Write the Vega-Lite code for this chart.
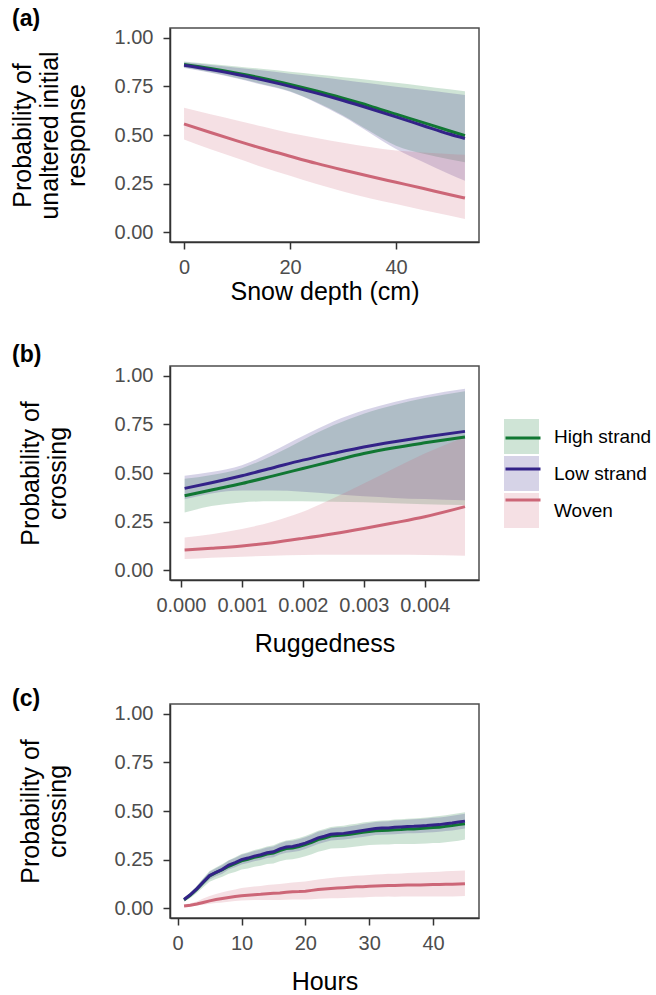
{
"$schema":"https://vega.github.io/schema/vega-lite/v6.json",
"padding":{"left":9,"top":6,"right":3,"bottom":5},
"background":"white",
"bounds":"flush",
"spacing":124,
"config":{
 "font":"Liberation Sans",
 "view":{"stroke":"#4d4d4d","strokeWidth":1.5},
 "axis":{"grid":false,"domainColor":"#333333","domainWidth":1.5,"tickColor":"#333333","tickWidth":1.5,"tickSize":7,"labelFontSize":20,"labelColor":"#4d4d4d","titleFontSize":25,"titleFontWeight":"normal","titleColor":"#000000","labelFont":"Liberation Sans","titleFont":"Liberation Sans"},
 "axisX":{"labelPadding":8},
 "axisY":{"labelPadding":10,"titleLineHeight":27},
 "legend":{"labelFont":"Liberation Sans"}
},
"datasets":{
"a":[
{"d":0,"type":"High strand","y":0.863,"lo":0.847,"hi":0.878},
{"d":5,"type":"High strand","y":0.842,"lo":0.822,"hi":0.865},
{"d":10,"type":"High strand","y":0.818,"lo":0.793,"hi":0.852},
{"d":15,"type":"High strand","y":0.791,"lo":0.760,"hi":0.839},
{"d":20,"type":"High strand","y":0.760,"lo":0.725,"hi":0.825},
{"d":25,"type":"High strand","y":0.726,"lo":0.668,"hi":0.811},
{"d":30,"type":"High strand","y":0.689,"lo":0.600,"hi":0.797},
{"d":35,"type":"High strand","y":0.650,"lo":0.520,"hi":0.783},
{"d":40,"type":"High strand","y":0.607,"lo":0.445,"hi":0.768},
{"d":45,"type":"High strand","y":0.565,"lo":0.405,"hi":0.752},
{"d":50,"type":"High strand","y":0.522,"lo":0.375,"hi":0.735},
{"d":53,"type":"High strand","y":0.497,"lo":0.360,"hi":0.725},
{"d":0,"type":"Low strand","y":0.858,"lo":0.845,"hi":0.874},
{"d":5,"type":"Low strand","y":0.836,"lo":0.820,"hi":0.860},
{"d":10,"type":"Low strand","y":0.811,"lo":0.790,"hi":0.846},
{"d":15,"type":"Low strand","y":0.782,"lo":0.757,"hi":0.831},
{"d":20,"type":"Low strand","y":0.750,"lo":0.722,"hi":0.815},
{"d":25,"type":"Low strand","y":0.715,"lo":0.665,"hi":0.799},
{"d":30,"type":"Low strand","y":0.677,"lo":0.595,"hi":0.783},
{"d":35,"type":"Low strand","y":0.636,"lo":0.512,"hi":0.766},
{"d":40,"type":"Low strand","y":0.593,"lo":0.428,"hi":0.748},
{"d":45,"type":"Low strand","y":0.549,"lo":0.362,"hi":0.732},
{"d":50,"type":"Low strand","y":0.505,"lo":0.300,"hi":0.716},
{"d":53,"type":"Low strand","y":0.482,"lo":0.265,"hi":0.706},
{"d":0,"type":"Woven","y":0.557,"lo":0.477,"hi":0.640},
{"d":5,"type":"Woven","y":0.513,"lo":0.427,"hi":0.607},
{"d":10,"type":"Woven","y":0.470,"lo":0.380,"hi":0.575},
{"d":15,"type":"Woven","y":0.429,"lo":0.333,"hi":0.542},
{"d":20,"type":"Woven","y":0.391,"lo":0.290,"hi":0.510},
{"d":25,"type":"Woven","y":0.354,"lo":0.248,"hi":0.484},
{"d":30,"type":"Woven","y":0.320,"lo":0.210,"hi":0.460},
{"d":35,"type":"Woven","y":0.288,"lo":0.175,"hi":0.438},
{"d":40,"type":"Woven","y":0.257,"lo":0.145,"hi":0.420},
{"d":45,"type":"Woven","y":0.226,"lo":0.115,"hi":0.410},
{"d":50,"type":"Woven","y":0.194,"lo":0.086,"hi":0.402},
{"d":53,"type":"Woven","y":0.176,"lo":0.068,"hi":0.398}
],
"b":[
{"r":0.00006,"type":"High strand","y":0.383,"lo":0.297,"hi":0.470},
{"r":0.0005,"type":"High strand","y":0.413,"lo":0.330,"hi":0.490},
{"r":0.001,"type":"High strand","y":0.446,"lo":0.349,"hi":0.525},
{"r":0.0015,"type":"High strand","y":0.484,"lo":0.355,"hi":0.590},
{"r":0.002,"type":"High strand","y":0.523,"lo":0.355,"hi":0.670},
{"r":0.0025,"type":"High strand","y":0.562,"lo":0.352,"hi":0.745},
{"r":0.003,"type":"High strand","y":0.600,"lo":0.350,"hi":0.805},
{"r":0.0035,"type":"High strand","y":0.630,"lo":0.345,"hi":0.850},
{"r":0.004,"type":"High strand","y":0.655,"lo":0.340,"hi":0.885},
{"r":0.00466,"type":"High strand","y":0.685,"lo":0.335,"hi":0.920},
{"r":0.00006,"type":"Low strand","y":0.421,"lo":0.365,"hi":0.486},
{"r":0.0005,"type":"Low strand","y":0.450,"lo":0.395,"hi":0.505},
{"r":0.001,"type":"Low strand","y":0.486,"lo":0.410,"hi":0.540},
{"r":0.0015,"type":"Low strand","y":0.526,"lo":0.410,"hi":0.610},
{"r":0.002,"type":"Low strand","y":0.566,"lo":0.404,"hi":0.690},
{"r":0.0025,"type":"Low strand","y":0.601,"lo":0.392,"hi":0.765},
{"r":0.003,"type":"Low strand","y":0.634,"lo":0.380,"hi":0.822},
{"r":0.0035,"type":"Low strand","y":0.661,"lo":0.372,"hi":0.865},
{"r":0.004,"type":"Low strand","y":0.685,"lo":0.366,"hi":0.899},
{"r":0.00466,"type":"Low strand","y":0.714,"lo":0.360,"hi":0.933},
{"r":0.00006,"type":"Woven","y":0.104,"lo":0.058,"hi":0.169},
{"r":0.0005,"type":"Woven","y":0.113,"lo":0.065,"hi":0.185},
{"r":0.001,"type":"Woven","y":0.125,"lo":0.070,"hi":0.212},
{"r":0.0015,"type":"Woven","y":0.142,"lo":0.075,"hi":0.250},
{"r":0.002,"type":"Woven","y":0.164,"lo":0.079,"hi":0.301},
{"r":0.0025,"type":"Woven","y":0.188,"lo":0.080,"hi":0.370},
{"r":0.003,"type":"Woven","y":0.215,"lo":0.080,"hi":0.446},
{"r":0.0035,"type":"Woven","y":0.244,"lo":0.080,"hi":0.525},
{"r":0.004,"type":"Woven","y":0.275,"lo":0.079,"hi":0.600},
{"r":0.00466,"type":"Woven","y":0.327,"lo":0.075,"hi":0.685}
],
"c":[
{"h":1,"type":"High strand","y":0.043,"lo":0.033,"hi":0.053},
{"h":2,"type":"High strand","y":0.068,"lo":0.053,"hi":0.081},
{"h":3,"type":"High strand","y":0.098,"lo":0.078,"hi":0.115},
{"h":4,"type":"High strand","y":0.133,"lo":0.108,"hi":0.154},
{"h":5,"type":"High strand","y":0.166,"lo":0.136,"hi":0.191},
{"h":6,"type":"High strand","y":0.183,"lo":0.150,"hi":0.210},
{"h":7,"type":"High strand","y":0.198,"lo":0.162,"hi":0.227},
{"h":8,"type":"High strand","y":0.216,"lo":0.177,"hi":0.247},
{"h":9,"type":"High strand","y":0.229,"lo":0.187,"hi":0.262},
{"h":10,"type":"High strand","y":0.244,"lo":0.199,"hi":0.279},
{"h":11,"type":"High strand","y":0.252,"lo":0.205,"hi":0.288},
{"h":12,"type":"High strand","y":0.262,"lo":0.214,"hi":0.299},
{"h":13,"type":"High strand","y":0.269,"lo":0.219,"hi":0.307},
{"h":14,"type":"High strand","y":0.279,"lo":0.227,"hi":0.318},
{"h":15,"type":"High strand","y":0.284,"lo":0.230,"hi":0.324},
{"h":16,"type":"High strand","y":0.297,"lo":0.242,"hi":0.338},
{"h":17,"type":"High strand","y":0.307,"lo":0.250,"hi":0.349},
{"h":18,"type":"High strand","y":0.310,"lo":0.252,"hi":0.353},
{"h":19,"type":"High strand","y":0.317,"lo":0.258,"hi":0.361},
{"h":20,"type":"High strand","y":0.327,"lo":0.267,"hi":0.372},
{"h":21,"type":"High strand","y":0.339,"lo":0.278,"hi":0.384},
{"h":22,"type":"High strand","y":0.353,"lo":0.291,"hi":0.399},
{"h":23,"type":"High strand","y":0.361,"lo":0.298,"hi":0.408},
{"h":24,"type":"High strand","y":0.371,"lo":0.307,"hi":0.418},
{"h":25,"type":"High strand","y":0.374,"lo":0.309,"hi":0.422},
{"h":26,"type":"High strand","y":0.376,"lo":0.310,"hi":0.424},
{"h":27,"type":"High strand","y":0.381,"lo":0.314,"hi":0.430},
{"h":28,"type":"High strand","y":0.386,"lo":0.318,"hi":0.435},
{"h":29,"type":"High strand","y":0.391,"lo":0.322,"hi":0.441},
{"h":30,"type":"High strand","y":0.395,"lo":0.325,"hi":0.445},
{"h":31,"type":"High strand","y":0.398,"lo":0.327,"hi":0.448},
{"h":32,"type":"High strand","y":0.400,"lo":0.328,"hi":0.451},
{"h":33,"type":"High strand","y":0.401,"lo":0.328,"hi":0.452},
{"h":34,"type":"High strand","y":0.404,"lo":0.330,"hi":0.456},
{"h":35,"type":"High strand","y":0.405,"lo":0.330,"hi":0.458},
{"h":36,"type":"High strand","y":0.407,"lo":0.331,"hi":0.460},
{"h":37,"type":"High strand","y":0.408,"lo":0.331,"hi":0.462},
{"h":38,"type":"High strand","y":0.410,"lo":0.332,"hi":0.464},
{"h":39,"type":"High strand","y":0.412,"lo":0.333,"hi":0.467},
{"h":40,"type":"High strand","y":0.415,"lo":0.335,"hi":0.471},
{"h":41,"type":"High strand","y":0.417,"lo":0.336,"hi":0.474},
{"h":42,"type":"High strand","y":0.421,"lo":0.339,"hi":0.478},
{"h":43,"type":"High strand","y":0.425,"lo":0.343,"hi":0.483},
{"h":44,"type":"High strand","y":0.430,"lo":0.347,"hi":0.489},
{"h":45,"type":"High strand","y":0.434,"lo":0.354,"hi":0.494},
{"h":1,"type":"Low strand","y":0.045,"lo":0.035,"hi":0.055},
{"h":2,"type":"Low strand","y":0.070,"lo":0.058,"hi":0.082},
{"h":3,"type":"Low strand","y":0.100,"lo":0.086,"hi":0.114},
{"h":4,"type":"Low strand","y":0.135,"lo":0.118,"hi":0.152},
{"h":5,"type":"Low strand","y":0.168,"lo":0.148,"hi":0.188},
{"h":6,"type":"Low strand","y":0.185,"lo":0.164,"hi":0.206},
{"h":7,"type":"Low strand","y":0.200,"lo":0.178,"hi":0.222},
{"h":8,"type":"Low strand","y":0.222,"lo":0.199,"hi":0.245},
{"h":9,"type":"Low strand","y":0.235,"lo":0.211,"hi":0.259},
{"h":10,"type":"Low strand","y":0.250,"lo":0.225,"hi":0.275},
{"h":11,"type":"Low strand","y":0.258,"lo":0.233,"hi":0.284},
{"h":12,"type":"Low strand","y":0.268,"lo":0.242,"hi":0.294},
{"h":13,"type":"Low strand","y":0.275,"lo":0.248,"hi":0.302},
{"h":14,"type":"Low strand","y":0.285,"lo":0.258,"hi":0.312},
{"h":15,"type":"Low strand","y":0.290,"lo":0.262,"hi":0.318},
{"h":16,"type":"Low strand","y":0.305,"lo":0.277,"hi":0.333},
{"h":17,"type":"Low strand","y":0.315,"lo":0.286,"hi":0.344},
{"h":18,"type":"Low strand","y":0.318,"lo":0.289,"hi":0.347},
{"h":19,"type":"Low strand","y":0.325,"lo":0.295,"hi":0.355},
{"h":20,"type":"Low strand","y":0.335,"lo":0.305,"hi":0.365},
{"h":21,"type":"Low strand","y":0.348,"lo":0.318,"hi":0.378},
{"h":22,"type":"Low strand","y":0.362,"lo":0.331,"hi":0.393},
{"h":23,"type":"Low strand","y":0.370,"lo":0.339,"hi":0.401},
{"h":24,"type":"Low strand","y":0.380,"lo":0.349,"hi":0.411},
{"h":25,"type":"Low strand","y":0.383,"lo":0.351,"hi":0.415},
{"h":26,"type":"Low strand","y":0.385,"lo":0.353,"hi":0.417},
{"h":27,"type":"Low strand","y":0.390,"lo":0.358,"hi":0.422},
{"h":28,"type":"Low strand","y":0.395,"lo":0.363,"hi":0.427},
{"h":29,"type":"Low strand","y":0.400,"lo":0.367,"hi":0.433},
{"h":30,"type":"Low strand","y":0.405,"lo":0.372,"hi":0.438},
{"h":31,"type":"Low strand","y":0.410,"lo":0.377,"hi":0.443},
{"h":32,"type":"Low strand","y":0.412,"lo":0.378,"hi":0.446},
{"h":33,"type":"Low strand","y":0.413,"lo":0.379,"hi":0.447},
{"h":34,"type":"Low strand","y":0.416,"lo":0.381,"hi":0.451},
{"h":35,"type":"Low strand","y":0.418,"lo":0.383,"hi":0.453},
{"h":36,"type":"Low strand","y":0.420,"lo":0.385,"hi":0.455},
{"h":37,"type":"Low strand","y":0.421,"lo":0.385,"hi":0.457},
{"h":38,"type":"Low strand","y":0.423,"lo":0.387,"hi":0.459},
{"h":39,"type":"Low strand","y":0.425,"lo":0.389,"hi":0.461},
{"h":40,"type":"Low strand","y":0.428,"lo":0.391,"hi":0.465},
{"h":41,"type":"Low strand","y":0.430,"lo":0.393,"hi":0.467},
{"h":42,"type":"Low strand","y":0.434,"lo":0.397,"hi":0.471},
{"h":43,"type":"Low strand","y":0.438,"lo":0.400,"hi":0.476},
{"h":44,"type":"Low strand","y":0.443,"lo":0.405,"hi":0.481},
{"h":45,"type":"Low strand","y":0.448,"lo":0.410,"hi":0.486},
{"h":1,"type":"Woven","y":0.012,"lo":0.008,"hi":0.020},
{"h":2,"type":"Woven","y":0.016,"lo":0.010,"hi":0.026},
{"h":3,"type":"Woven","y":0.022,"lo":0.014,"hi":0.035},
{"h":4,"type":"Woven","y":0.030,"lo":0.018,"hi":0.050},
{"h":5,"type":"Woven","y":0.038,"lo":0.023,"hi":0.063},
{"h":6,"type":"Woven","y":0.045,"lo":0.027,"hi":0.074},
{"h":7,"type":"Woven","y":0.050,"lo":0.030,"hi":0.082},
{"h":8,"type":"Woven","y":0.055,"lo":0.033,"hi":0.090},
{"h":9,"type":"Woven","y":0.060,"lo":0.037,"hi":0.097},
{"h":10,"type":"Woven","y":0.064,"lo":0.040,"hi":0.104},
{"h":11,"type":"Woven","y":0.067,"lo":0.041,"hi":0.108},
{"h":12,"type":"Woven","y":0.070,"lo":0.042,"hi":0.112},
{"h":13,"type":"Woven","y":0.072,"lo":0.042,"hi":0.115},
{"h":14,"type":"Woven","y":0.075,"lo":0.043,"hi":0.119},
{"h":15,"type":"Woven","y":0.077,"lo":0.043,"hi":0.122},
{"h":16,"type":"Woven","y":0.079,"lo":0.043,"hi":0.125},
{"h":17,"type":"Woven","y":0.082,"lo":0.044,"hi":0.129},
{"h":18,"type":"Woven","y":0.085,"lo":0.045,"hi":0.133},
{"h":19,"type":"Woven","y":0.086,"lo":0.045,"hi":0.135},
{"h":20,"type":"Woven","y":0.088,"lo":0.045,"hi":0.138},
{"h":21,"type":"Woven","y":0.092,"lo":0.047,"hi":0.143},
{"h":22,"type":"Woven","y":0.096,"lo":0.049,"hi":0.148},
{"h":23,"type":"Woven","y":0.099,"lo":0.050,"hi":0.152},
{"h":24,"type":"Woven","y":0.102,"lo":0.051,"hi":0.156},
{"h":25,"type":"Woven","y":0.104,"lo":0.052,"hi":0.159},
{"h":26,"type":"Woven","y":0.106,"lo":0.053,"hi":0.162},
{"h":27,"type":"Woven","y":0.108,"lo":0.054,"hi":0.165},
{"h":28,"type":"Woven","y":0.110,"lo":0.055,"hi":0.167},
{"h":29,"type":"Woven","y":0.111,"lo":0.056,"hi":0.169},
{"h":30,"type":"Woven","y":0.113,"lo":0.058,"hi":0.171},
{"h":31,"type":"Woven","y":0.115,"lo":0.059,"hi":0.174},
{"h":32,"type":"Woven","y":0.116,"lo":0.059,"hi":0.175},
{"h":33,"type":"Woven","y":0.117,"lo":0.060,"hi":0.177},
{"h":34,"type":"Woven","y":0.117,"lo":0.059,"hi":0.178},
{"h":35,"type":"Woven","y":0.118,"lo":0.060,"hi":0.179},
{"h":36,"type":"Woven","y":0.119,"lo":0.060,"hi":0.181},
{"h":37,"type":"Woven","y":0.120,"lo":0.061,"hi":0.183},
{"h":38,"type":"Woven","y":0.120,"lo":0.060,"hi":0.184},
{"h":39,"type":"Woven","y":0.121,"lo":0.061,"hi":0.185},
{"h":40,"type":"Woven","y":0.122,"lo":0.061,"hi":0.187},
{"h":41,"type":"Woven","y":0.122,"lo":0.060,"hi":0.188},
{"h":42,"type":"Woven","y":0.123,"lo":0.061,"hi":0.190},
{"h":43,"type":"Woven","y":0.124,"lo":0.061,"hi":0.191},
{"h":44,"type":"Woven","y":0.125,"lo":0.062,"hi":0.193},
{"h":45,"type":"Woven","y":0.126,"lo":0.063,"hi":0.194}
]
},
"vconcat":[
{
 "width":309,"height":214,
 "title":{"text":"(a)","anchor":"start","frame":"group","dx":-158,"offset":-21,"baseline":"alphabetic","fontSize":23,"fontWeight":"bold","color":"#000000"},
 "data":{"name":"a"},
 "layer":[
  {"mark":{"type":"area","fillOpacity":0.2,"interpolate":"monotone"},
   "encoding":{
    "x":{"field":"d","type":"quantitative","scale":{"domain":[-2.65,55.65],"nice":false,"zero":false},"axis":{"values":[0,20,40],"title":"Snow depth (cm)","titlePadding":2}},
    "y":{"field":"lo","type":"quantitative","scale":{"domain":[-0.05,1.05],"nice":false,"zero":false},"axis":{"values":[0,0.25,0.5,0.75,1],"format":".2f","title":["Probability of","unaltered initial","response"],"titlePadding":25}},
    "y2":{"field":"hi"},
    "fill":{"field":"type","type":"nominal","scale":{"range":["#117733","#332288","#CC6677"]},"legend":{"title":null,"orient":"none","legendX":334,"legendY":391,"symbolType":"square","symbolSize":1225,"symbolOpacity":0.2,"symbolStrokeWidth":0,"labelFontSize":19,"labelColor":"#000000","labelOffset":15,"rowPadding":2,"padding":0,"zindex":0}}
   }},
  {"mark":{"type":"line","strokeWidth":3,"interpolate":"monotone"},
   "encoding":{
    "x":{"field":"d","type":"quantitative","axis":{"values":[0,20,40],"title":"Snow depth (cm)","titlePadding":2}},
    "y":{"field":"y","type":"quantitative","axis":{"values":[0,0.25,0.5,0.75,1],"format":".2f","title":["Probability of","unaltered initial","response"],"titlePadding":25}},
    "stroke":{"field":"type","type":"nominal","scale":{"domain":["High strand","Low strand","Woven"],"range":["#117733","#332288","#CC6677"]},"legend":{"title":null,"orient":"none","legendX":334,"legendY":391,"symbolType":"stroke","symbolSize":1225,"symbolStrokeWidth":3,"labelFontSize":19,"labelExpr":"''","labelOffset":15,"rowPadding":2,"padding":0,"zindex":1}}
   }}
 ]
},
{
 "width":309,"height":214,
 "title":{"text":"(b)","anchor":"start","frame":"group","dx":-158,"offset":-19,"baseline":"alphabetic","fontSize":23,"fontWeight":"bold","color":"#000000"},
 "data":{"name":"b"},
 "layer":[
  {"mark":{"type":"area","fillOpacity":0.2,"interpolate":"monotone"},
   "encoding":{
    "x":{"field":"r","type":"quantitative","scale":{"domain":[-0.00018,0.00489],"nice":false,"zero":false},"axis":{"values":[0,0.001,0.002,0.003,0.004],"format":".3f","title":"Ruggedness","titlePadding":16}},
    "y":{"field":"lo","type":"quantitative","scale":{"domain":[-0.05,1.05],"nice":false,"zero":false},"axis":{"values":[0,0.25,0.5,0.75,1],"format":".2f","title":["Probability of","crossing"],"titlePadding":44}},
    "y2":{"field":"hi"},
    "fill":{"field":"type","type":"nominal","scale":{"range":["#117733","#332288","#CC6677"]},"legend":{"title":null,"orient":"none","legendX":334,"legendY":391,"symbolType":"square","symbolSize":1225,"symbolOpacity":0.2,"symbolStrokeWidth":0,"labelFontSize":19,"labelColor":"#000000","labelOffset":15,"rowPadding":2,"padding":0,"zindex":0}}
   }},
  {"mark":{"type":"line","strokeWidth":3,"interpolate":"monotone"},
   "encoding":{
    "x":{"field":"r","type":"quantitative","axis":{"values":[0,0.001,0.002,0.003,0.004],"format":".3f","title":"Ruggedness","titlePadding":16}},
    "y":{"field":"y","type":"quantitative","axis":{"values":[0,0.25,0.5,0.75,1],"format":".2f","title":["Probability of","crossing"],"titlePadding":44}},
    "stroke":{"field":"type","type":"nominal","scale":{"domain":["High strand","Low strand","Woven"],"range":["#117733","#332288","#CC6677"]},"legend":{"title":null,"orient":"none","legendX":334,"legendY":391,"symbolType":"stroke","symbolSize":1225,"symbolStrokeWidth":3,"labelFontSize":19,"labelExpr":"''","labelOffset":15,"rowPadding":2,"padding":0,"zindex":1}}
   }}
 ]
},
{
 "width":309,"height":214,
 "title":{"text":"(c)","anchor":"start","frame":"group","dx":-158,"offset":-25,"baseline":"alphabetic","fontSize":23,"fontWeight":"bold","color":"#000000"},
 "data":{"name":"c"},
 "layer":[
  {"mark":{"type":"area","fillOpacity":0.2},
   "encoding":{
    "x":{"field":"h","type":"quantitative","scale":{"domain":[-1.2,47.2],"nice":false,"zero":false},"axis":{"values":[0,10,20,30,40],"title":"Hours","titlePadding":16}},
    "y":{"field":"lo","type":"quantitative","scale":{"domain":[-0.05,1.05],"nice":false,"zero":false},"axis":{"values":[0,0.25,0.5,0.75,1],"format":".2f","title":["Probability of","crossing"],"titlePadding":44}},
    "y2":{"field":"hi"},
    "fill":{"field":"type","type":"nominal","scale":{"range":["#117733","#332288","#CC6677"]},"legend":{"title":null,"orient":"none","legendX":334,"legendY":391,"symbolType":"square","symbolSize":1225,"symbolOpacity":0.2,"symbolStrokeWidth":0,"labelFontSize":19,"labelColor":"#000000","labelOffset":15,"rowPadding":2,"padding":0,"zindex":0}}
   }},
  {"mark":{"type":"line","strokeWidth":3},
   "encoding":{
    "x":{"field":"h","type":"quantitative","axis":{"values":[0,10,20,30,40],"title":"Hours","titlePadding":16}},
    "y":{"field":"y","type":"quantitative","axis":{"values":[0,0.25,0.5,0.75,1],"format":".2f","title":["Probability of","crossing"],"titlePadding":44}},
    "stroke":{"field":"type","type":"nominal","scale":{"domain":["High strand","Low strand","Woven"],"range":["#117733","#332288","#CC6677"]},"legend":{"title":null,"orient":"none","legendX":334,"legendY":391,"symbolType":"stroke","symbolSize":1225,"symbolStrokeWidth":3,"labelFontSize":19,"labelExpr":"''","labelOffset":15,"rowPadding":2,"padding":0,"zindex":1}}
   }}
 ]
}
]
}
